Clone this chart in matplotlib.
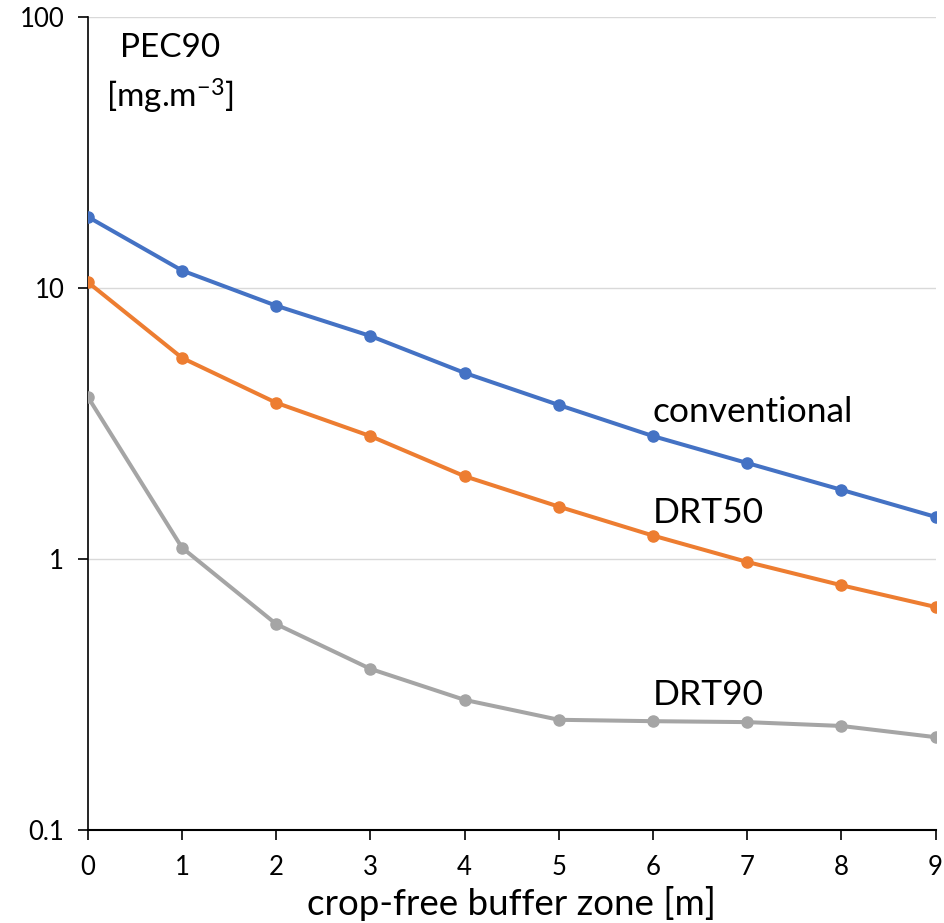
import numpy as np
import matplotlib
matplotlib.use("Agg")
import matplotlib.pyplot as plt
from matplotlib.ticker import FixedLocator, NullLocator

plt.rcParams['font.family'] = ['Lato', 'DejaVu Sans']
plt.rcParams['mathtext.default'] = 'regular'

# buffer zone width [m]
buffer_m = [0, 1, 2, 3, 4, 5, 6, 7, 8, 9]
# PEC90 values [mg.m-3]
conventional = [18.3, 11.6, 8.6, 6.65, 4.86, 3.70, 2.84, 2.26, 1.80, 1.43]
drt50 = [10.5, 5.52, 3.77, 2.84, 2.02, 1.56, 1.22, 0.975, 0.80, 0.665]
drt90 = [3.96, 1.10, 0.575, 0.393, 0.302, 0.255, 0.252, 0.250, 0.242, 0.220]

y_ticks = [0.1, 1, 10, 100]
y_labels = ['0.1', '1', '10', '100']

fig = plt.figure(figsize=(9.45, 9.23), dpi=100)
ax = fig.add_axes([0.093, 0.1008, 0.897, 0.8808])

ax.plot(buffer_m, conventional, '-o', color='#4472C4', lw=2.9, ms=8, zorder=3)
ax.plot(buffer_m, drt50, '-o', color='#ED7D31', lw=2.9, ms=8, zorder=3)
ax.plot(buffer_m, drt90, '-o', color='#A5A5A5', lw=2.9, ms=8, zorder=3)

ax.set_yscale('log')
ax.set_ylim(0.1, 100)
ax.set_xlim(0, 9)
ax.yaxis.set_major_locator(FixedLocator(y_ticks))
ax.yaxis.set_minor_locator(NullLocator())
ax.set_yticklabels(y_labels)
ax.set_xticks(buffer_m)

for v in y_ticks[1:]:
    ax.axhline(v, color='#D9D9D9', lw=1.0, zorder=1)

for s in ['top', 'right']:
    ax.spines[s].set_visible(False)
ax.spines['left'].set_color('black')
ax.spines['bottom'].set_color('black')
ax.spines['left'].set_linewidth(1.2)
ax.spines['bottom'].set_linewidth(1.5)

ax.tick_params(axis='both', direction='out', length=7, width=1.2, labelsize=18.5, colors='black')
ax.tick_params(axis='x', pad=11)
ax.tick_params(axis='y', pad=10)

ax.set_xlabel('crop-free buffer zone [m]', fontsize=26.5, labelpad=4)

ax.text(6, 3.48, 'conventional', fontsize=25.5, va='center', ha='left')
ax.text(6, 1.48, 'DRT50', fontsize=25.5, va='center', ha='left')
ax.text(6, 0.315, 'DRT90', fontsize=25.5, va='center', ha='left')

ax.text(0.097, 0.962, 'PEC90', transform=ax.transAxes, fontsize=24, ha='center', va='center')
ax.text(0.097, 0.902, '[mg.m$^{-3}$]', transform=ax.transAxes, fontsize=24, ha='center', va='center')

fig.savefig('out.png', dpi=100)
